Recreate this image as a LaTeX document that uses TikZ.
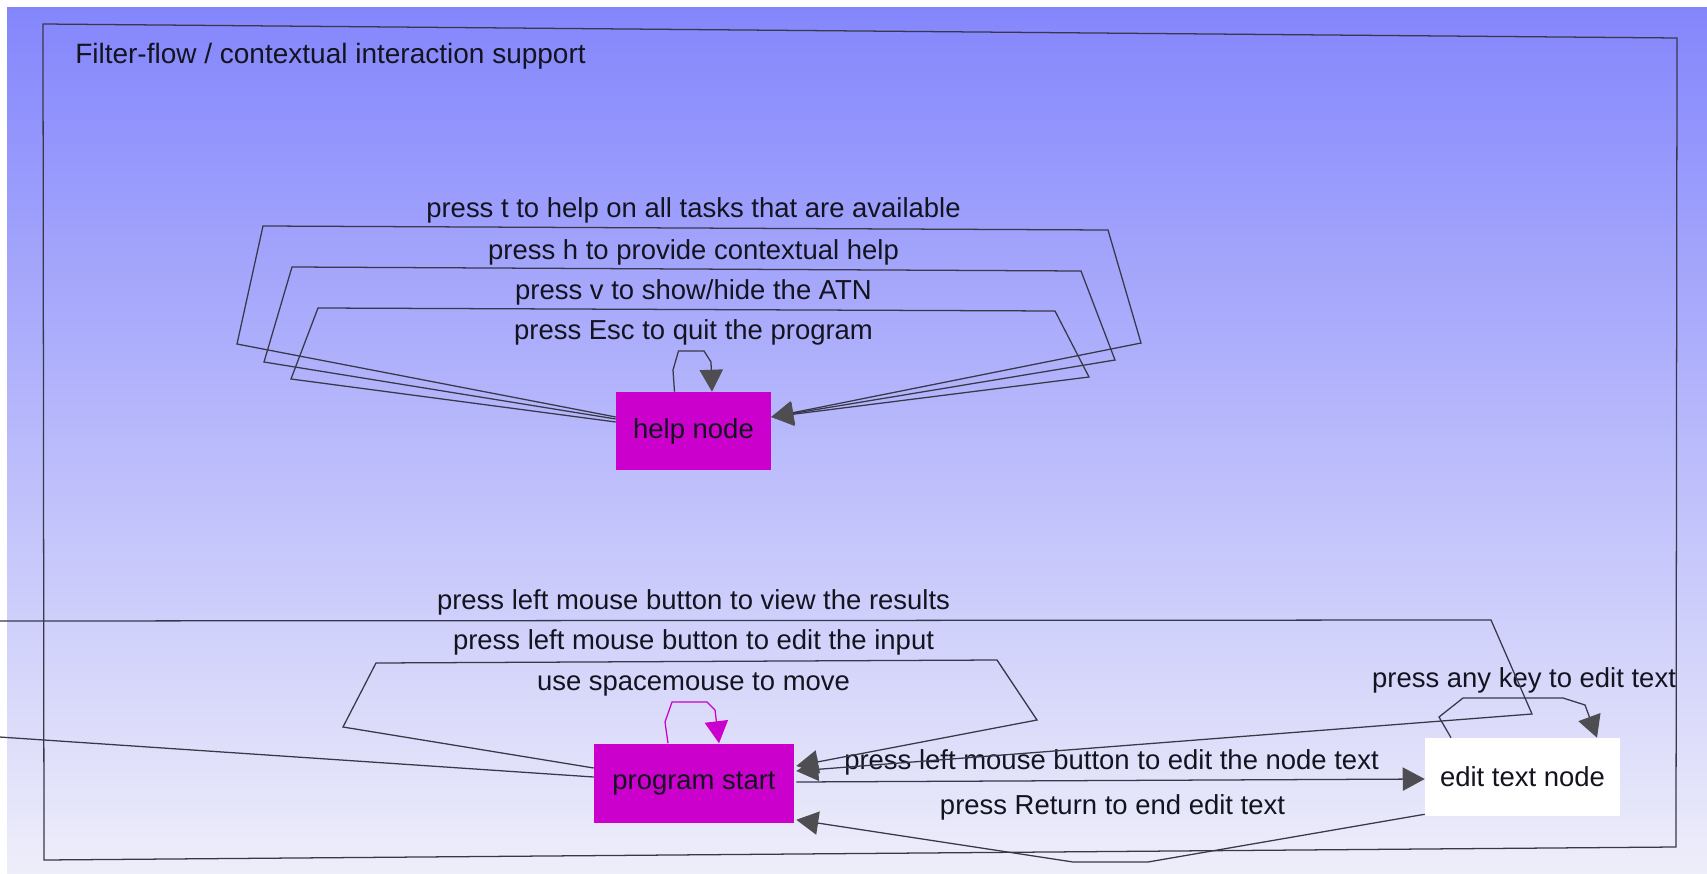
\documentclass[tikz,border=0pt]{standalone}
\usepackage{fontspec}
\setmainfont{Liberation Sans}
\usetikzlibrary{arrows.meta,calc}

\definecolor{bgtop}{RGB}{132,134,252}
\definecolor{bgbot}{RGB}{238,238,250}
\definecolor{mag}{RGB}{204,0,204}
\definecolor{wire}{RGB}{56,56,74}
\definecolor{tipgray}{RGB}{78,78,82}
\definecolor{ink}{RGB}{20,20,32}

\begin{document}
\begin{tikzpicture}[x=0.75pt,y=-0.75pt,
  every node/.style={font=\fontsize{20.6pt}{24pt}\selectfont, text=ink},
  state/.style={rectangle, inner sep=0pt, draw=none},
  lbl/.style={inner sep=0pt, anchor=center},
  wireline/.style={draw=wire, line width=0.95pt},
  flow/.style={wireline, -{Triangle[length=16.5pt,width=17.5pt,color=tipgray]}},
  selfflow/.style={draw=mag, line width=0.95pt, -{Triangle[length=16.5pt,width=17.5pt,color=mag]}}
]
\useasboundingbox (0,0) rectangle (1707,874);
\clip (0,0) rectangle (1707,874);

% background
\fill[white] (0,0) rectangle (1707,874);
\shade[top color=bgtop, bottom color=bgbot] (7,8) rectangle (1707,874);

% outer frame and title
\draw[wireline] (43,24) -- (1677,38) -- (1676,847) -- (44,860) -- cycle;
\node[lbl, anchor=west] (title) at (75,56) {\fontsize{21pt}{24pt}\selectfont Filter-flow / contextual interaction support};

% states
\node[state, fill=mag, minimum width=116.25pt, minimum height=58.5pt] (help) at (693.5,431) {help node};
\node[state, fill=mag, minimum width=150pt, minimum height=59.25pt] (pstart) at (694,783) {program start};
\node[state, fill=white, minimum width=146.25pt, minimum height=58.5pt] (edit) at (1522.5,777) {edit text node};

% transition labels
\node[lbl] (lblT) at (693.5,210) {press t to help on all tasks that are available};
\node[lbl] (lblH) at (693.5,252) {press h to provide contextual help};
\node[lbl] (lblV) at (693.5,292.5) {press v to show/hide the ATN};
\node[lbl] (lblEsc) at (693.5,332.5) {press Esc to quit the program};
\node[lbl] (lblView) at (693.5,602) {press left mouse button to view the results};
\node[lbl] (lblInput) at (693.5,642) {press left mouse button to edit the input};
\node[lbl] (lblSpace) at (693.5,684) {use spacemouse to move};
\node[lbl] (lblNode) at (1111.5,762) {press left mouse button to edit the node text};
\node[lbl] (lblRet) at (1112.5,807) {press Return to end edit text};
\node[lbl] (lblKey) at (1524,680) {press any key to edit text};

% help node self loops
\draw[flow] ($(help.west)+(0,-14)$) -- (237,344) -- (263,226) -- (1108,230) -- (1141,343) -- ($(help.east)+(0,-14)$);
\draw[flow] ($(help.west)+(0,-12)$) -- (264,362) -- (292,267) -- (1081,271) -- (1115,360) -- ($(help.east)+(0,-14)$);
\draw[flow] ($(help.west)+(0,-9)$) -- (291,379) -- (318,308) -- (1055,311) -- (1089,377) -- ($(help.east)+(0,-14)$);
\draw[flow] ($(help.north)+(-19,0)$) -- (673,370) -- (678.5,351) -- (704,351) -- (711,362) -- ($(help.north)+(18.5,0)$);

% program start self loops
\draw[flow] ($(pstart.west)+(0,-6)$) -- (-60,733) -- (-30,621) -- (1491,620) -- (1532,714) -- ($(pstart.east)+(2,-12)$);
\draw[flow] ($(pstart.west)+(0,-15)$) -- (343,727) -- (376,663) -- (997,660) -- (1037,720) -- ($(pstart.east)+(2,-17)$);
\draw[selfflow] ($(pstart.north)+(-26,0)$) -- (665,722) -- (672,702) -- (707,702) -- (715,710) -- ($(pstart.north)+(25,0)$);

% program start <-> edit text node
\draw[flow] ($(pstart.east)+(2,-1)$) -- ($(edit.west)+(0,2)$);
\draw[flow] ($(edit.south west)+(0,-2)$) -- (1148,862) -- (1073,862) -- ($(pstart.south east)+(2,-3)$);

% edit text node self loop
\draw[flow] ($(edit.north)+(-71.5,0)$) -- (1439,717) -- (1463,698) -- (1563,698) -- (1585,705) -- ($(edit.north)+(74.5,0)$);
\end{tikzpicture}
\end{document}
